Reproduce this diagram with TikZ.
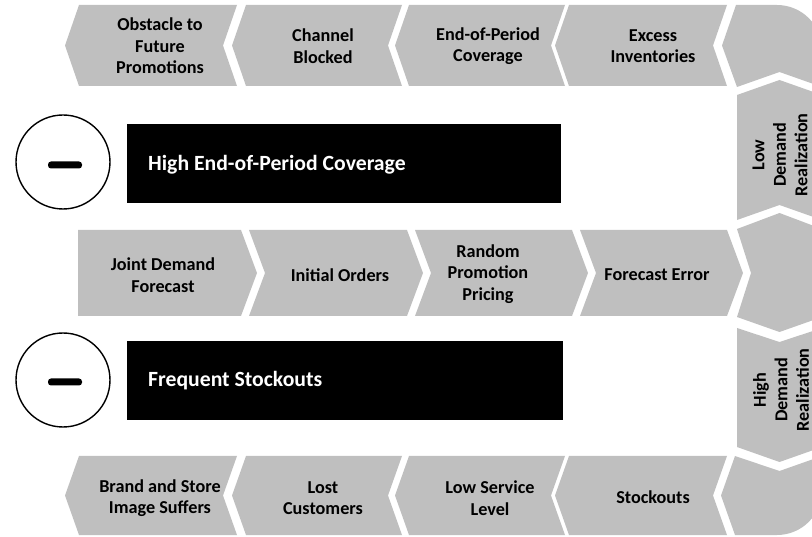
\documentclass[tikz,border=0pt]{standalone}
\usepackage{fontspec}
\setmainfont{Carlito}
\definecolor{segfill}{RGB}{191,191,191}
\begin{document}
\begin{tikzpicture}[x=1pt,y=-1pt,
  seg/.style={fill=segfill, draw=none},
  lbl/.style={font=\bfseries\fontsize{18.2}{21.5}\selectfont, align=center, text=black, inner sep=0pt},
  barbox/.style={fill=black, draw=none, anchor=north west, inner sep=0pt},
  barlbl/.style={font=\bfseries\fontsize{21.7}{25}\selectfont, text=white, anchor=west, inner sep=0pt},
  sign/.style={circle, draw=black, line width=1.4pt, fill=white, minimum size=94pt, inner sep=0pt},
  minus/.style={fill=black, rounded corners=3pt, minimum width=34pt, minimum height=7pt, inner sep=0pt}
]
\useasboundingbox (0,0) rectangle (812,537);
\clip (0,0) rectangle (812,537);
% top row (pointing left)
\path[seg] (65,45.5) -- (79,5) -- (237,5) -- (223,45.5) -- (237,86) -- (79,86) -- cycle;
\path[seg] (232,45.5) -- (246,5) -- (402,5) -- (388,45.5) -- (402,86) -- (246,86) -- cycle;
\path[seg] (395,45.5) -- (409,5) -- (565,5) -- (551,45.5) -- (565,86) -- (409,86) -- cycle;
\path[seg] (555,45.5) -- (569,5) -- (727,5) -- (713,45.5) -- (727,86) -- (569,86) -- cycle;
\path[seg] (722,45.5) -- (736,5) -- (777,5) .. controls (801.85,5) and (822,25.15) .. (822,50) -- (822,87) -- (779.5,72) -- (737,87) -- cycle;
% right column
\path[seg] (737,95) -- (779.5,80) -- (822,95) -- (822,220) -- (779.5,205) -- (737,220) -- cycle;
\path[seg] (737,229) -- (779.5,213) -- (822,229) -- (822,317) -- (779.5,332) -- (737,317) -- (751,273) -- cycle;
\path[seg] (737,328) -- (779.5,342) -- (822,328) -- (822,447) -- (779.5,462) -- (737,447) -- cycle;
% middle row (pointing right)
\path[seg] (78,230) -- (241,230) -- (257,273) -- (241,316) -- (78,316) -- cycle;
\path[seg] (249,230) -- (407,230) -- (423,273) -- (407,316) -- (249,316) -- (265,273) -- cycle;
\path[seg] (415,230) -- (572,230) -- (588,273) -- (572,316) -- (415,316) -- (431,273) -- cycle;
\path[seg] (580,230) -- (727,230) -- (743,273) -- (727,316) -- (580,316) -- (596,273) -- cycle;
% bottom row (pointing left)
\path[seg] (65,495.5) -- (79,456) -- (237,456) -- (223,495.5) -- (237,535) -- (79,535) -- cycle;
\path[seg] (232,495.5) -- (246,456) -- (402,456) -- (388,495.5) -- (402,535) -- (246,535) -- cycle;
\path[seg] (395,495.5) -- (409,456) -- (565,456) -- (551,495.5) -- (565,535) -- (409,535) -- cycle;
\path[seg] (555,495.5) -- (569,456) -- (727,456) -- (713,495.5) -- (727,535) -- (569,535) -- cycle;
\path[seg] (721,495.5) -- (735,456) -- (779.5,471) -- (822,456) -- (822,490) .. controls (822,514.85) and (801.85,535) .. (777,535) -- (735,535) -- cycle;
% labels
\node[lbl] (t1) at (160,46) {Obstacle to\\Future\\Promotions};
\node[lbl] (t2) at (323,46) {Channel\\Blocked};
\node[lbl] (t3) at (488,46) {End-of-Period\\Coverage};
\node[lbl] (t4) at (653,46) {Excess\\Inventories};
\node[lbl] (m1) at (163,275) {Joint Demand\\Forecast};
\node[lbl] (m2) at (340,275) {Initial Orders};
\node[lbl] (m3) at (488,274) {Random\\Promotion\\Pricing};
\node[lbl] (m4) at (657,275) {Forecast Error};
\node[lbl] (b1) at (160,498) {Brand and Store\\Image Suffers};
\node[lbl] (b2) at (323,498) {Lost\\Customers};
\node[lbl] (b3) at (490,498) {Low Service\\Level};
\node[lbl] (b4) at (653,497) {Stockouts};
\node[lbl, rotate=90] (ld) at (780,155) {Low\\Demand\\Realization};
\node[lbl, rotate=90] (hd) at (781,390) {High\\Demand\\Realization};
% bars and signs
\node[barbox, minimum width=434pt, minimum height=79pt] (bar1) at (127,124) {};
\node[barlbl] (bar1t) at (148,165) {High End-of-Period Coverage};
\node[barbox, minimum width=436pt, minimum height=79pt] (bar2) at (127,341) {};
\node[barlbl] (bar2t) at (148,381) {Frequent Stockouts};
\node[sign] (c1) at (63,162) {};
\node[minus] (c1m) at (65,165) {};
\node[sign] (c2) at (63,380) {};
\node[minus] (c2m) at (65,382) {};
\end{tikzpicture}
\end{document}
